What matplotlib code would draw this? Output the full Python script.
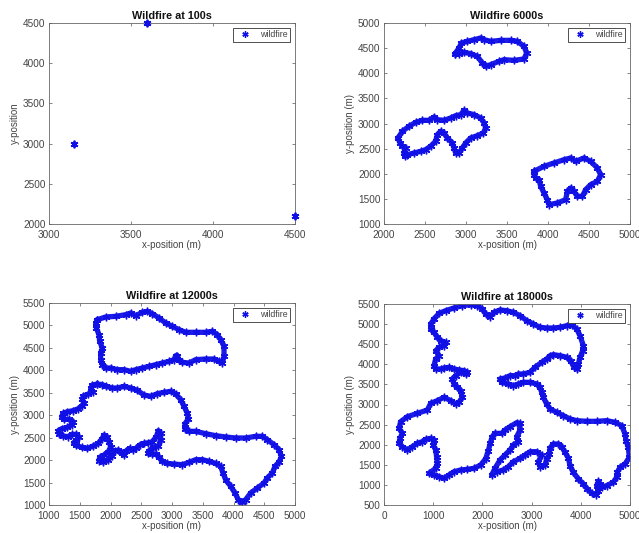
import numpy as np
import matplotlib
matplotlib.use("Agg")
import matplotlib.pyplot as plt
from matplotlib.lines import Line2D

plt.rcParams['font.family'] = ['Liberation Sans', 'DejaVu Sans']

# ---------------- fire front data (metres) ----------------
# t = 100 s : ignition points
ign_x = [3150, 3600, 4500]
ign_y = [3000, 4500, 2100]

# t = 6000 s : three separate perimeters
f6a_x = [2866, 2915, 2943, 3016, 3098, 3179, 3220, 3301, 3423, 3545, 3626, 3707, 3740,
         3707, 3585, 3463, 3402, 3301, 3240, 3199, 3138, 3057, 2976, 2915]
f6a_y = [4390, 4502, 4602, 4635, 4668, 4702, 4668, 4635, 4655, 4655, 4635, 4536, 4403,
         4284, 4257, 4270, 4237, 4171, 4138, 4204, 4337, 4390, 4416, 4390]

f6b_x = [2171, 2224, 2305, 2386, 2467, 2549, 2610, 2650, 2732, 2813, 2874, 2935, 2976,
         3016, 3098, 3179, 3220, 3240, 3211, 3138, 3057, 2996, 2955, 2915, 2874, 2854,
         2833, 2772, 2732, 2691, 2650, 2630, 2569, 2508, 2447, 2366, 2285, 2252, 2244,
         2264, 2224, 2195]
f6b_y = [2712, 2844, 2944, 3023, 3063, 3063, 3129, 3076, 3063, 3110, 3156, 3176, 3262,
         3209, 3176, 3110, 3011, 2911, 2811, 2758, 2712, 2612, 2513, 2413, 2413, 2513,
         2612, 2712, 2811, 2844, 2778, 2647, 2547, 2480, 2446, 2413, 2380, 2347, 2413,
         2513, 2547, 2612]

f6c_x = [3829, 3951, 4073, 4195, 4276, 4337, 4439, 4520, 4602, 4642, 4602, 4520, 4459,
         4419, 4358, 4317, 4276, 4236, 4215, 4114, 4012, 3992, 3951, 3911, 3890, 3850,
         3829]
f6c_y = [2048, 2148, 2214, 2280, 2314, 2247, 2314, 2247, 2115, 1982, 1849, 1783, 1684,
         1551, 1551, 1650, 1717, 1650, 1485, 1418, 1385, 1485, 1617, 1750, 1883, 1916,
         1982]

# t = 12000 s : two perimeters
f12a_x = [1786, 1921, 2084, 2247, 2328, 2409, 2518, 2599, 2680, 2789, 2897, 3005, 3114,
          3222, 3385, 3547, 3656, 3737, 3791, 3846, 3846, 3818, 3764, 3683, 3547, 3385,
          3276, 3168, 3114, 3087, 3060, 3033, 2951, 2843, 2734, 2626, 2518, 2409, 2328,
          2220, 2111, 2003, 1921, 1867, 1840, 1840, 1867, 1824, 1813, 1770, 1759]
f12a_y = [5129, 5188, 5203, 5240, 5277, 5218, 5292, 5314, 5262, 5166, 5054, 4980, 4906,
          4847, 4847, 4847, 4869, 4795, 4683, 4535, 4312, 4163, 4200, 4252, 4252, 4238,
          4163, 4178, 4223, 4327, 4327, 4238, 4200, 4163, 4126, 4089, 4052, 4015, 3978,
          4015, 4015, 4052, 4052, 4126, 4238, 4386, 4498, 4646, 4795, 4943, 5054]

f12b_x = [1786, 1705, 1678, 1715, 1640, 1558, 1542, 1569, 1531, 1477, 1390, 1298, 1228,
          1206, 1244, 1325, 1390, 1369, 1298, 1206, 1152, 1163, 1228, 1314, 1379, 1444,
          1488, 1444, 1401, 1444, 1531, 1623, 1715, 1802, 1856, 1894, 1949, 1976, 2003,
          1965, 1894, 1824, 1813, 1883, 1965, 2019, 2073, 2127, 2182, 2220, 2257, 2312,
          2366, 2420, 2474, 2545, 2615, 2680, 2745, 2778, 2816, 2816, 2778, 2691, 2626,
          2615, 2680, 2745, 2789, 2843, 2924, 3033, 3168, 3276, 3385, 3493, 3602, 3710,
          3791, 3829, 3873, 3954, 4024, 4079, 4133, 4198, 4279, 4388, 4496, 4550, 4631,
          4675, 4740, 4778, 4740, 4659, 4550, 4469, 4360, 4198, 4035, 3873, 3710, 3547,
          3385, 3276, 3211, 3211, 3266, 3249, 3195, 3141, 3060, 2978, 2870, 2762, 2653,
          2545, 2436, 2328, 2220, 2111, 2030, 1932, 1867]
f12b_y = [3695, 3673, 3598, 3524, 3472, 3428, 3353, 3279, 3205, 3145, 3101, 3078, 3041,
          2967, 2908, 2908, 2856, 2781, 2729, 2700, 2655, 2581, 2536, 2521, 2573, 2573,
          2507, 2447, 2388, 2328, 2284, 2261, 2313, 2373, 2462, 2559, 2507, 2410, 2298,
          2187, 2113, 2061, 1987, 1957, 2002, 2091, 2202, 2224, 2150, 2113, 2209, 2261,
          2224, 2269, 2336, 2373, 2388, 2410, 2521, 2655, 2596, 2447, 2313, 2261, 2209,
          2150, 2135, 2135, 2061, 1972, 1927, 1912, 1898, 1950, 2010, 2010, 1973, 1926,
          1861, 1713, 1564, 1416, 1267, 1119, 1059, 1119, 1267, 1378, 1490, 1601, 1713,
          1861, 1950, 2084, 2233, 2344, 2455, 2530, 2530, 2493, 2493, 2515, 2545, 2589,
          2641, 2641, 2693, 2812, 2916, 3049, 3198, 3346, 3480, 3532, 3510, 3480, 3421,
          3450, 3554, 3606, 3643, 3606, 3606, 3643, 3681]

# t = 18000 s : merged perimeter
f18_x = [1016, 1118, 1253, 1423, 1592, 1762, 1897, 1999, 2066, 2154, 2236, 2358,
         2494, 2629, 2765, 2900, 3036, 3171, 3307, 3442, 3578, 3713, 3815, 3916, 3984,
         4052, 4038, 3984, 3950, 3930, 3862, 3794, 3713, 3578, 3442, 3374, 3307, 3205,
         3069, 2968, 2832, 2731, 2663, 2561, 2460, 2358, 2392, 2527, 2629, 2731, 2832,
         2968, 3103, 3171, 3205, 3239, 3307, 3374, 3510, 3645, 3781, 3916, 4120, 4323,
         4526, 4695, 4831, 4899, 4919, 4966, 4987, 4899, 4797, 4743, 4729, 4662, 4526,
         4424, 4391, 4357, 4323, 4357, 4309, 4221, 4133, 4052, 3950, 3848, 3781, 3747,
         3679, 3611, 3544, 3442, 3374, 3361, 3307, 3273, 3171, 3137, 3205, 3103, 2968,
         2866, 2765, 2629, 2527, 2426, 2290, 2188,
         2256, 2358, 2460, 2561, 2629, 2731, 2697, 2765, 2765,
         2697, 2561, 2460, 2392, 2256, 2200, 2160, 2120, 2066, 1965, 1829, 1694, 1558,
         1423, 1321, 1220, 1118, 1016, 915, 1050, 1084, 1070, 1050, 1003, 1016, 949,
         847, 779, 678, 576, 474, 373, 305, 325, 373, 305, 339, 474, 678, 881, 949,
         1084, 1220, 1355, 1457, 1524, 1592, 1558, 1491, 1423, 1389, 1457, 1558, 1660,
         1694, 1626, 1524, 1423, 1321, 1220, 1152, 1050, 1016, 1050, 1118, 1050, 1118,
         1220, 1253, 1152, 1084, 1016, 949, 949]
f18_y = [5127, 5268, 5334, 5401, 5459, 5483, 5459, 5376, 5251, 5185, 5293, 5351,
         5334, 5293, 5210, 5086, 5003, 4920, 4903, 4903, 4920, 4961, 4986, 4878, 4712,
         4464, 4339, 4174, 4008, 3883, 3925, 4091, 4174, 4215, 4240, 4215, 4132, 4049,
         3925, 3801, 3759, 3759, 3718, 3718, 3660, 3635, 3552, 3510, 3469, 3510, 3552,
         3552, 3510, 3428, 3303, 3179, 3013, 2889, 2806, 2723, 2640, 2598, 2582, 2582,
         2598, 2557, 2474, 2267, 2101, 1935, 1687, 1521, 1438, 1314, 1189, 1065, 982,
         941, 1023, 1090, 982, 858, 758, 791, 899, 1023, 1148, 1314, 1479, 1670,
         1811, 1952, 2018, 2018, 1919, 1770, 1645, 1494, 1453, 1577, 1743, 1826, 1826,
         1743, 1660, 1577, 1453, 1370, 1329, 1245,
         1411, 1619, 1743, 1868, 1992, 2075, 2199, 2365, 2531,
         2548, 2448, 2365, 2282, 2282, 2200, 2040, 1850, 1650, 1495, 1412, 1387, 1371,
         1329, 1247, 1164, 1205, 1247, 1288, 1412, 1537, 1702, 1868, 1993, 2117, 2158,
         2134, 2076, 2034, 1951, 1868, 1951, 2034, 2158, 2283, 2407, 2573, 2697, 2780,
         2863, 3030, 3096, 3179, 3096, 3013, 3055, 3179, 3345, 3428, 3510, 3635, 3718,
         3801, 3759, 3801, 3842, 3859, 3884, 3925, 3909, 3884, 3884, 3967, 4132, 4215,
         4339, 4422, 4464, 4547, 4588, 4671, 4795, 4878, 5003]

titles = ["Wildfire at 100s", "Wildfire 6000s", "Wildfire at 12000s", "Wildfire at 18000s"]
xlims = [(3000, 4500), (2000, 5000), (1000, 5000), (0, 5000)]
ylims = [(2000, 4500), (1000, 5000), (1000, 5500), (500, 5500)]
xticks = [[3000, 3500, 4000, 4500],
          [2000, 2500, 3000, 3500, 4000, 4500, 5000],
          [1000, 1500, 2000, 2500, 3000, 3500, 4000, 4500, 5000],
          [0, 1000, 2000, 3000, 4000, 5000]]
yticks = [[2000, 2500, 3000, 3500, 4000, 4500],
          [1000, 1500, 2000, 2500, 3000, 3500, 4000, 4500, 5000],
          [1000, 1500, 2000, 2500, 3000, 3500, 4000, 4500, 5000, 5500],
          [500, 1000, 1500, 2000, 2500, 3000, 3500, 4000, 4500, 5000, 5500]]
ylabels = ["y-position", "y-position (m)", "y-position (m)", "y-position (m)"]
perimeters = [[],
              [(f6a_x, f6a_y), (f6b_x, f6b_y), (f6c_x, f6c_y)],
              [(f12a_x, f12a_y), (f12b_x, f12b_y)],
              [(f18_x, f18_y)]]

# ---------------- styling ----------------
W, H = 639, 533
fire_col = '#1010e6'
txt_col = '#444444'
ast = (6, 2, 0)   # asterisk marker

fig = plt.figure(figsize=(W / 100, H / 100), dpi=100)
boxes = [(49, 23, 295, 224), (384, 23, 630, 224), (49, 303, 295, 505), (384, 304, 630, 505)]

for i, (l, t, r, b) in enumerate(boxes):
    ax = fig.add_axes([l / W, 1 - b / H, (r - l) / W, (b - t) / H])
    if i == 0:
        ax.plot(ign_x, ign_y, ls='none', marker=ast, ms=5.5, mew=1.3,
                color=fire_col, clip_on=False, zorder=5)
    for px, py in perimeters[i]:
        cx = np.r_[px, px[:1]]
        cy = np.r_[py, py[:1]]
        ax.plot(cx, cy, '-', color=fire_col, lw=3.8, solid_joinstyle='round',
                solid_capstyle='round', alpha=0.95)
        ax.plot(cx, cy, ls='none', marker=ast, ms=5.5, mew=1.0, color=fire_col)

    ax.set_xlim(*xlims[i])
    ax.set_ylim(*ylims[i])
    ax.set_xticks(xticks[i])
    ax.set_yticks(yticks[i])
    ax.tick_params(direction='in', length=2.5, width=0.5, colors='#555555',
                   labelcolor=txt_col, labelsize=7.2, top=True, right=True)
    ax.tick_params(axis='x', pad=4)
    ax.tick_params(axis='y', pad=2.5)
    for s in ax.spines.values():
        s.set_color('#666666')
        s.set_linewidth(0.6)
    ax.set_title(titles[i], fontsize=7.8, fontweight='bold', color='#111111', pad=3)
    ax.set_xlabel("x-position (m)", fontsize=7, color=txt_col, labelpad=0.5)
    ax.set_ylabel(ylabels[i], fontsize=7, color=txt_col, labelpad=2)

    h = Line2D([], [], ls='none', marker=ast, ms=4.5, mew=1.0, color=fire_col)
    leg = ax.legend([h], ['wildfire'], loc='upper right', fontsize=6.3,
                    frameon=True, fancybox=False, framealpha=1, borderpad=0.25,
                    handlelength=2.2, handletextpad=0.6, borderaxespad=0.6)
    leg.get_frame().set_edgecolor('#333333')
    leg.get_frame().set_linewidth(0.6)
    for tx in leg.get_texts():
        tx.set_color(txt_col)

fig.savefig("out.png", dpi=100)
